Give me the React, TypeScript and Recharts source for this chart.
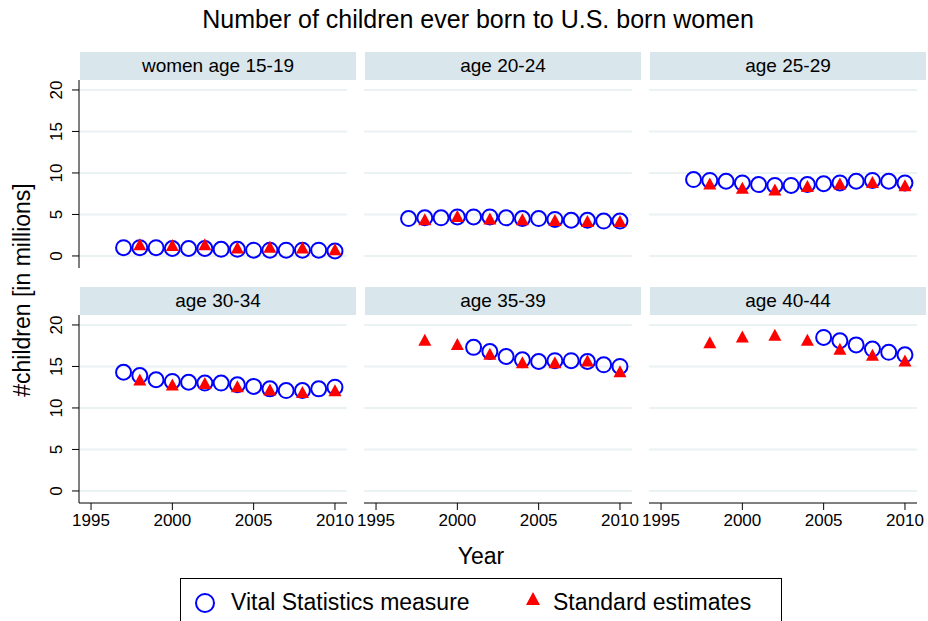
import { ScatterChart, Scatter, XAxis, YAxis, CartesianGrid } from "recharts";

const years = [1997, 1998, 1999, 2000, 2001, 2002, 2003, 2004, 2005, 2006, 2007, 2008, 2009, 2010];
const estYears = [1998, 2000, 2002, 2004, 2006, 2008, 2010];

const panelTitles = ["women age 15-19", "age 20-24", "age 25-29", "age 30-34", "age 35-39", "age 40-44"];

const vital15 = [1.0, 1.0, 1.0, 0.9, 0.9, 0.9, 0.8, 0.8, 0.7, 0.7, 0.7, 0.7, 0.7, 0.6];
const vital20 = [4.5, 4.6, 4.6, 4.7, 4.7, 4.7, 4.6, 4.5, 4.5, 4.4, 4.3, 4.3, 4.2, 4.2];
const vital25 = [9.2, 9.1, 9.0, 8.8, 8.6, 8.5, 8.5, 8.6, 8.7, 8.8, 9.0, 9.1, 9.0, 8.8];
const vital30 = [14.3, 13.9, 13.4, 13.2, 13.1, 13.0, 13.0, 12.8, 12.6, 12.3, 12.1, 12.1, 12.3, 12.5];
const vital35 = [null, null, null, null, 17.3, 16.8, 16.2, 15.8, 15.6, 15.7, 15.7, 15.6, 15.2, 15.0];
const vital40 = [null, null, null, null, null, null, null, null, 18.5, 18.1, 17.6, 17.1, 16.7, 16.4];

const est15 = [1.3, 1.2, 1.3, 0.9, 1.0, 0.9, 0.7];
const est20 = [4.3, 4.7, 4.4, 4.3, 4.2, 4.1, 4.1];
const est25 = [8.6, 8.1, 7.9, 8.3, 8.6, 8.8, 8.4];
const est30 = [13.3, 12.7, 12.9, 12.5, 12.1, 11.8, 12.0];
const est35 = [18.1, 17.6, 16.4, 15.4, 15.4, 15.6, 14.3];
const est40 = [17.8, 18.5, 18.7, 18.1, 17.0, 16.3, 15.6];

const vitalSets = [vital15, vital20, vital25, vital30, vital35, vital40];
const estSets = [est15, est20, est25, est30, est35, est40];

const yTicks = [0, 5, 10, 15, 20];
const xTicks = [1995, 2000, 2005, 2010];

const FONT = "Arial, 'Liberation Sans', sans-serif";

const Circle = (p: any) => (
  <circle cx={p.cx} cy={p.cy} r={7.5} fill="none" stroke="#0000ff" strokeWidth={2} />
);
const Tri = (p: any) => (
  <path d={`M${p.cx},${p.cy - 7} L${p.cx + 6.5},${p.cy + 5} L${p.cx - 6.5},${p.cy + 5} Z`} fill="#ff0000" />
);

const yTick = (p: any) => (
  <text x={p.x - 4} y={p.y} transform={`rotate(-90 ${p.x - 4} ${p.y})`} textAnchor="middle" fontSize={17} fill="#000" fontFamily={FONT} dy={-4}>
    {p.payload.value}
  </text>
);

const xTick = (p: any) => (
  <text x={p.x} y={p.y} textAnchor="middle" fontSize={17} fill="#000" fontFamily={FONT} dy={14}>
    {p.payload.value}
  </text>
);

function Panel({ i }: { i: number }) {
  const col = i % 3;
  const row = Math.floor(i / 3);
  const left = col === 0;
  const bottom = row === 1;
  const plotX = 79 + col * 285;
  const plotY = row === 0 ? 80 : 315;
  const plotW = 268;
  const plotH = 188;
  const ml = left ? 40 : 0;
  const xh = bottom ? 30 : 0;
  const pad = 22;
  const vital = years.map((y, k) => ({ x: y, y: vitalSets[i][k] })).filter((d) => d.y !== null);
  const est = estYears.map((y, k) => ({ x: y, y: estSets[i][k] }));
  return (
    <>
      <div
        style={{
          position: "absolute",
          left: plotX + 1,
          top: plotY - 28,
          width: 276,
          height: 28,
          background: "#d9e6eb",
          fontFamily: FONT,
          fontSize: 19,
          textAlign: "center",
          lineHeight: "28px",
        }}
      >
        {panelTitles[i]}
      </div>
      <div style={{ position: "absolute", left: plotX - ml - pad, top: plotY }}>
        <ScatterChart width={plotW + ml + 2 * pad} height={plotH + xh + 10} margin={{ top: 0, right: pad, bottom: 10, left: pad }}>
          <CartesianGrid horizontal vertical={false} stroke="#eaf2f3" strokeWidth={2} horizontalValues={yTicks} />
          <XAxis
            type="number"
            dataKey="x"
            domain={[1994.26, 2010.74]}
            ticks={xTicks}
            hide={!bottom}
            height={30}
            allowDataOverflow
            tick={xTick}
            tickSize={7}
            stroke="#000"
            interval={0}
          />
          <YAxis
            type="number"
            dataKey="y"
            domain={[-1.45, 21.2]}
            ticks={yTicks}
            hide={!left}
            width={40}
            allowDataOverflow
            tick={yTick}
            tickSize={7}
            stroke="#000"
            interval={0}
          />
          <Scatter data={vital} shape={Circle} isAnimationActive={false} />
          <Scatter data={est} shape={Tri} isAnimationActive={false} />
        </ScatterChart>
      </div>
    </>
  );
}

export default function App() {
  return (
    <div style={{ position: "absolute", left: 0, top: 0, width: 928, height: 621, background: "#fff", overflow: "hidden", fontFamily: FONT }}>
      <div style={{ position: "absolute", left: 0, top: 5, width: 956, textAlign: "center", fontSize: 25 }}>
        Number of children ever born to U.S. born women
      </div>
      {[0, 1, 2, 3, 4, 5].map((i) => (
        <Panel key={i} i={i} />
      ))}
      <div style={{ position: "absolute", left: 0, top: 543, width: 962, textAlign: "center", fontSize: 23 }}>Year</div>
      <div
        style={{
          position: "absolute",
          left: 22,
          top: 290,
          transform: "translate(-50%, -50%) rotate(-90deg)",
          whiteSpace: "nowrap",
          fontSize: 23,
        }}
      >
        #children [in millions]
      </div>
      <div
        style={{
          position: "absolute",
          left: 180,
          top: 578,
          width: 600,
          height: 60,
          border: "1px solid #000",
          fontSize: 23,
        }}
      >
        <svg width={24} height={24} style={{ position: "absolute", left: 12, top: 12 }}>
          <circle cx={12} cy={12} r={9} fill="none" stroke="#0000ff" strokeWidth={2} />
        </svg>
        <div style={{ position: "absolute", left: 50, top: 10 }}>Vital Statistics measure</div>
        <svg width={20} height={20} style={{ position: "absolute", left: 342, top: 11 }}>
          <path d="M10,2 L17,15 L3,15 Z" fill="#ff0000" />
        </svg>
        <div style={{ position: "absolute", left: 372, top: 10 }}>Standard estimates</div>
      </div>
    </div>
  );
}
